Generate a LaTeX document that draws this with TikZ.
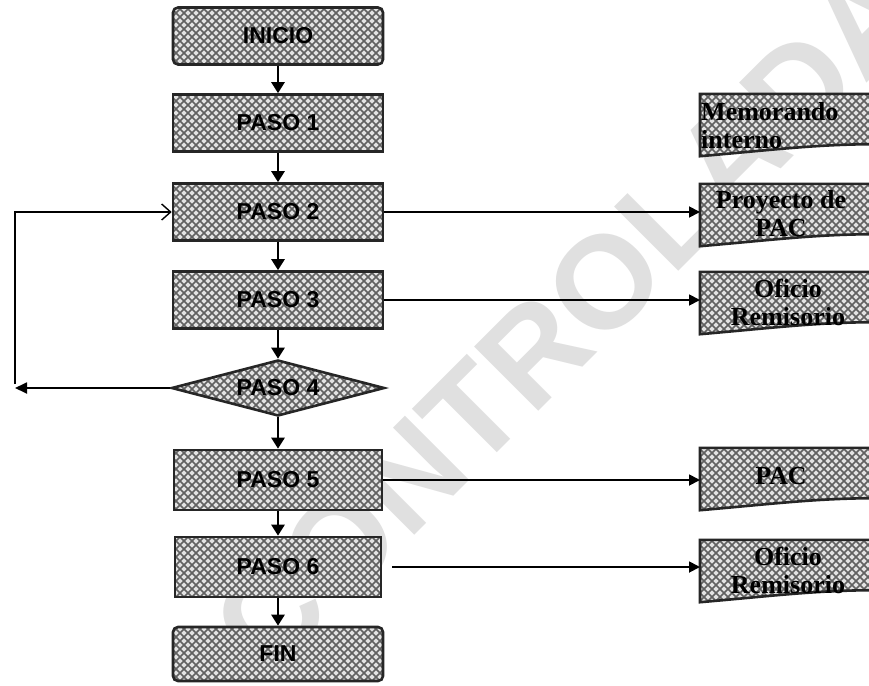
\documentclass[tikz,border=0pt]{standalone}
\usepackage{fontspec}
\setmainfont{Liberation Sans}
\newfontfamily\docfont{Liberation Serif}
\usetikzlibrary{patterns,shapes.geometric,arrows.meta,calc}
\pgfdeclarepatternformonly{diagxhatch}{\pgfpoint{-1pt}{-1pt}}{\pgfpoint{9pt}{9pt}}{\pgfpoint{8pt}{8pt}}{%
  \pgfsetlinewidth{1.6pt}%
  \pgfpathmoveto{\pgfpoint{-0.5pt}{-0.5pt}}\pgfpathlineto{\pgfpoint{8.5pt}{8.5pt}}%
  \pgfpathmoveto{\pgfpoint{-0.5pt}{8.5pt}}\pgfpathlineto{\pgfpoint{8.5pt}{-0.5pt}}%
  \pgfusepath{stroke}}
\begin{document}
\begin{tikzpicture}[x=1pt,y=-1pt,
  texture/.style={draw=black!85, line width=2.6pt, preaction={fill=gray!22},
    pattern=diagxhatch, pattern color=black!62},
  stepbox/.style={texture, rectangle, minimum width=210pt, minimum height=57pt,
    inner sep=0pt, font=\bfseries\fontsize{23}{25}\selectfont},
  endbox/.style={stepbox, rounded corners=5pt},
  decbox/.style={texture, diamond, aspect=3.8, minimum width=213pt, minimum height=56pt,
    inner sep=0pt, font=\bfseries\fontsize{23}{25}\selectfont},
  docnode/.style={rectangle, minimum width=176pt, minimum height=56pt, inner sep=3pt,
    font=\docfont\bfseries\fontsize{26}{28}\selectfont, align=center},
  flow/.style={line width=2.6pt, -{Triangle[length=11pt,width=13pt]}},
  outarrow/.style={line width=1.8pt, -{Triangle[length=11pt,width=11pt]}},
  loopline/.style={line width=1.8pt},
  watermark/.style={text=black!12, font=\bfseries\fontsize{132}{140}\selectfont}
]
\useasboundingbox (0,0) rectangle (869,685);
\clip (0,0) rectangle (869,685);
\fill[white] (0,0) rectangle (869,685);

% watermark
\node[watermark, rotate=45] (wm) at (568,318) {CONTROLADA};

% main column
\node[endbox] (inicio) at (278,36) {INICIO};
\node[stepbox] (p1) at (278,123) {PASO 1};
\node[stepbox] (p2) at (278,212) {PASO 2};
\node[stepbox] (p3) at (278,300) {PASO 3};
\node[decbox] (p4) at (278,388) {PASO 4};
\node[stepbox, minimum width=208pt, minimum height=60pt] (p5) at (278,480) {PASO 5};
\node[stepbox, minimum width=206pt, minimum height=60pt] (p6) at (278,567) {PASO 6};
\node[endbox, minimum height=54pt] (fin) at (278,654) {FIN};

% documents
\newcommand{\docshape}[1]{%
  \path[texture] ($(#1.north west)$) -- ($(#1.north east)$) -- ($(#1.south east)+(0,-6)$)
    .. controls ($(#1.south east)+(-60,-6)$) and ($(#1.south west)+(70,0)$) .. ($(#1.south west)+(0,6)$)
    -- cycle;}
\node[docnode, anchor=west] (memo) at (700,122) {};
\node[docnode, anchor=west] (proj) at (700,212) {};
\node[docnode, anchor=west] (of1) at (700,300) {};
\node[docnode, anchor=west] (pac) at (700,476) {};
\node[docnode, anchor=west] (of2) at (700,568) {};
\docshape{memo}\docshape{proj}\docshape{of1}\docshape{pac}\docshape{of2}
\node[docnode, anchor=west, align=left, minimum width=0pt, inner sep=1pt] (memotxt) at (700,126) {Memorando\\interno};
\node[docnode, minimum width=0pt] (projtxt) at (781,214) {Proyecto de\\PAC};
\node[docnode, minimum width=0pt] (of1txt) at (788,302) {Oficio\\Remisorio};
\node[docnode, minimum width=0pt] (pactxt) at (781,476) {PAC};
\node[docnode, minimum width=0pt] (of2txt) at (788,570) {Oficio\\Remisorio};

% vertical flow
\draw[flow] (inicio) -- (p1);
\draw[flow] (p1) -- (p2);
\draw[flow] (p2) -- (p3);
\draw[flow] (p3) -- (p4);
\draw[flow] (p4) -- (p5);
\draw[flow] (p5) -- (p6);
\draw[flow] (p6) -- (fin);

% outputs
\draw[outarrow] (p2.east) -- (proj.west);
\draw[outarrow] (p3.east) -- (of1.west);
\draw[outarrow] (p5.east) -- (pac.west |- p5.east);
\draw[outarrow, shorten <=10pt] (p6.east) -- (of2.west |- p6.east);

% loop back
\coordinate (lb) at (15,388);
\coordinate (lt) at (15,212);
\draw[loopline, -{Triangle[length=12pt,width=11pt]}] (p4.west) -- (lb);
\draw[loopline, -{Straight Barb[length=9pt,width=16pt,line width=1.4pt]}] ($(lb)+(0,-4)$) -- (lt) -- (p2.west);
\end{tikzpicture}
\end{document}
